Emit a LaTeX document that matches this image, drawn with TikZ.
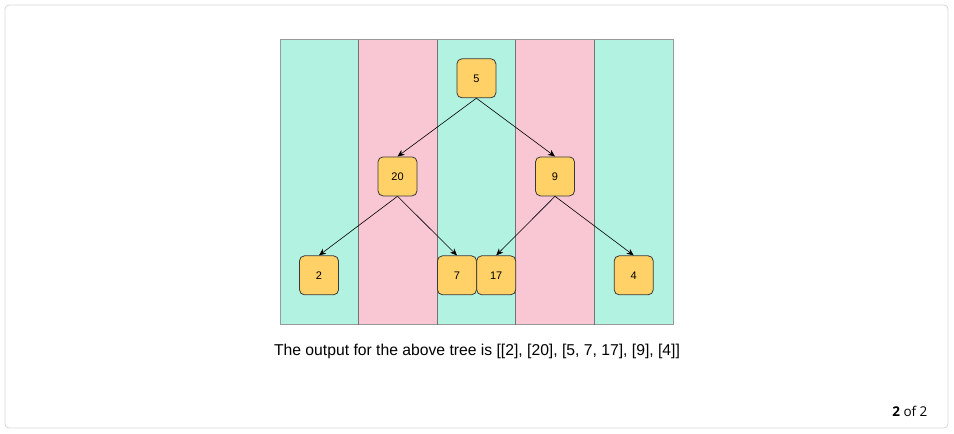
\documentclass[tikz,border=0pt]{standalone}
\usepackage{fontspec}
\setmainfont{Liberation Sans}
\newfontfamily\pagerfont{Open Sans}
\usetikzlibrary{arrows.meta}
\definecolor{stripeA}{HTML}{B2F2E1}
\definecolor{stripeB}{HTML}{F9C6D3}
\definecolor{keyfill}{HTML}{FFD166}
\definecolor{keyline}{HTML}{3A3A3A}
\definecolor{frameline}{HTML}{D6D6D6}
\begin{document}
\begin{tikzpicture}[x=1pt,y=-1pt,
  key/.style={draw=keyline,fill=keyfill,rounded corners=5pt,line width=0.8pt,
    minimum width=39pt,minimum height=39pt,inner sep=0pt,font=\fontsize{11}{13}\selectfont},
  edge/.style={draw=black,line width=0.6pt,-{Stealth[length=7pt,width=6pt]}}]
\useasboundingbox (0,0) rectangle (954,434);
% outer card
\draw[frameline,rounded corners=4pt,line width=0.8pt] (5,5) rectangle (948,428);
% vertical-order columns
\fill[stripeA] (280,39.5) rectangle (358.5,324.5);
\fill[stripeB] (358.5,39.5) rectangle (437.3,324.5);
\fill[stripeA] (437.3,39.5) rectangle (515.8,324.5);
\fill[stripeB] (515.8,39.5) rectangle (594.4,324.5);
\fill[stripeA] (594.4,39.5) rectangle (673.3,324.5);
\draw[black!40,line width=0.6pt] (280,39.5) rectangle (673.3,324.5);
\foreach \xx in {358.5,437.3,515.8,594.4}
  \draw[black!55,line width=0.7pt] (\xx,39.5) -- (\xx,324.5);
% tree nodes
\node[key] (n5)  at (476.4,78.3)  {5};
\node[key] (n20) at (397.5,176.4) {20};
\node[key] (n9)  at (555,176.4)   {9};
\node[key] (n2)  at (319,275.3)   {2};
\node[key] (n7)  at (457,275.3)   {7};
\node[key] (n17) at (496.2,275.3) {17};
\node[key] (n4)  at (633.7,275.3) {4};
% edges
\draw[edge] (n5.south) -- (n20.north);
\draw[edge] (n5.south) -- (n9.north);
\draw[edge] (n20.south) -- (n2.north);
\draw[edge] (n20.south) -- (n7.north);
\draw[edge] (n9.south) -- (n17.north);
\draw[edge] (n9.south) -- (n4.north);
% caption and pager
\node[font=\fontsize{15.7}{18}\selectfont] (cap) at (477,351.5) {The output for the above tree is [[2], [20], [5, 7, 17], [9], [4]]};
\node[font=\pagerfont\fontsize{13.5}{15}\selectfont,anchor=east] (pager) at (931,411) {\textbf{2} of 2};
\end{tikzpicture}
\end{document}
